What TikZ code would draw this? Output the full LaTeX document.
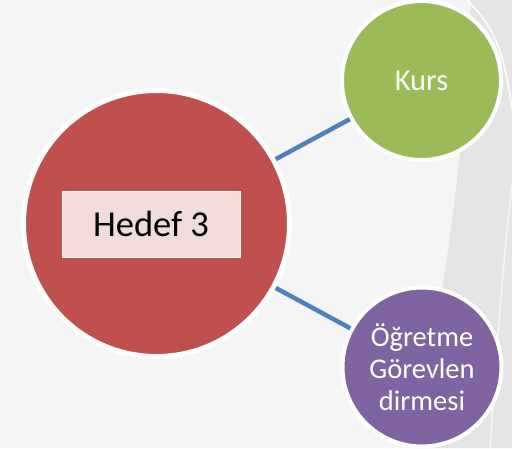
\documentclass[tikz,border=0pt]{standalone}
\usepackage{fontspec}
\setmainfont{Carlito}
\definecolor{bgc}{HTML}{F5F5F5}
\definecolor{bandc}{HTML}{E4E4E4}
\definecolor{redc}{HTML}{C0504D}
\definecolor{grnc}{HTML}{9BBB59}
\definecolor{purc}{HTML}{8064A2}
\definecolor{bluc}{HTML}{4F81BD}
\definecolor{pinkc}{HTML}{F2DCDB}
\tikzset{
  bubble/.style={circle, draw=white, inner sep=0pt, text=white, align=center},
  link/.style={draw=bluc, line width=4.5pt},
  labelbox/.style={rectangle, fill=pinkc, draw=white, line width=1pt,
    minimum width=178pt, minimum height=66pt, inner sep=0pt,
    font=\fontsize{36.5}{40}\selectfont}
}
\begin{document}
\begin{tikzpicture}[x=1pt,y=-1pt]
  % page background and the soft band on the right
  \fill[bgc] (0,0) rectangle (512,448);
  \useasboundingbox (0,0) rectangle (512,448);
  \fill[bandc] (471,0) .. controls (466,110) and (455,250) .. (412,448)
    -- (512,448) -- (512,0) -- cycle;
  \draw[white, line width=2pt, opacity=0.8]
    (466,0) .. controls (490,20) and (505,50) .. (512,110);
  \draw[white, line width=1.5pt, opacity=0.7]
    (512,185) .. controls (502,270) and (496,360) .. (490,448);

  % circles
  \node[bubble, fill=redc, line width=5pt, minimum size=266pt] (hub) at (156.5,223.5) {};
  \node[bubble, fill=grnc, line width=4pt, minimum size=159pt,
        font=\fontsize{30.5}{34}\selectfont] (kurs) at (421.5,80.5) {Kurs};
  \node[bubble, fill=purc, line width=4pt, minimum size=159pt,
        font=\fontsize{28.5}{32}\selectfont] (ogr) at (422,367)
        {Öğretme\\Görevlen\\dirmesi};

  % title box inside the hub
  \node[labelbox] (title) at (151,224) {Hedef 3};

  % connectors
  \draw[link] (hub) -- (kurs);
  \draw[link] (hub) -- (ogr);
\end{tikzpicture}
\end{document}
